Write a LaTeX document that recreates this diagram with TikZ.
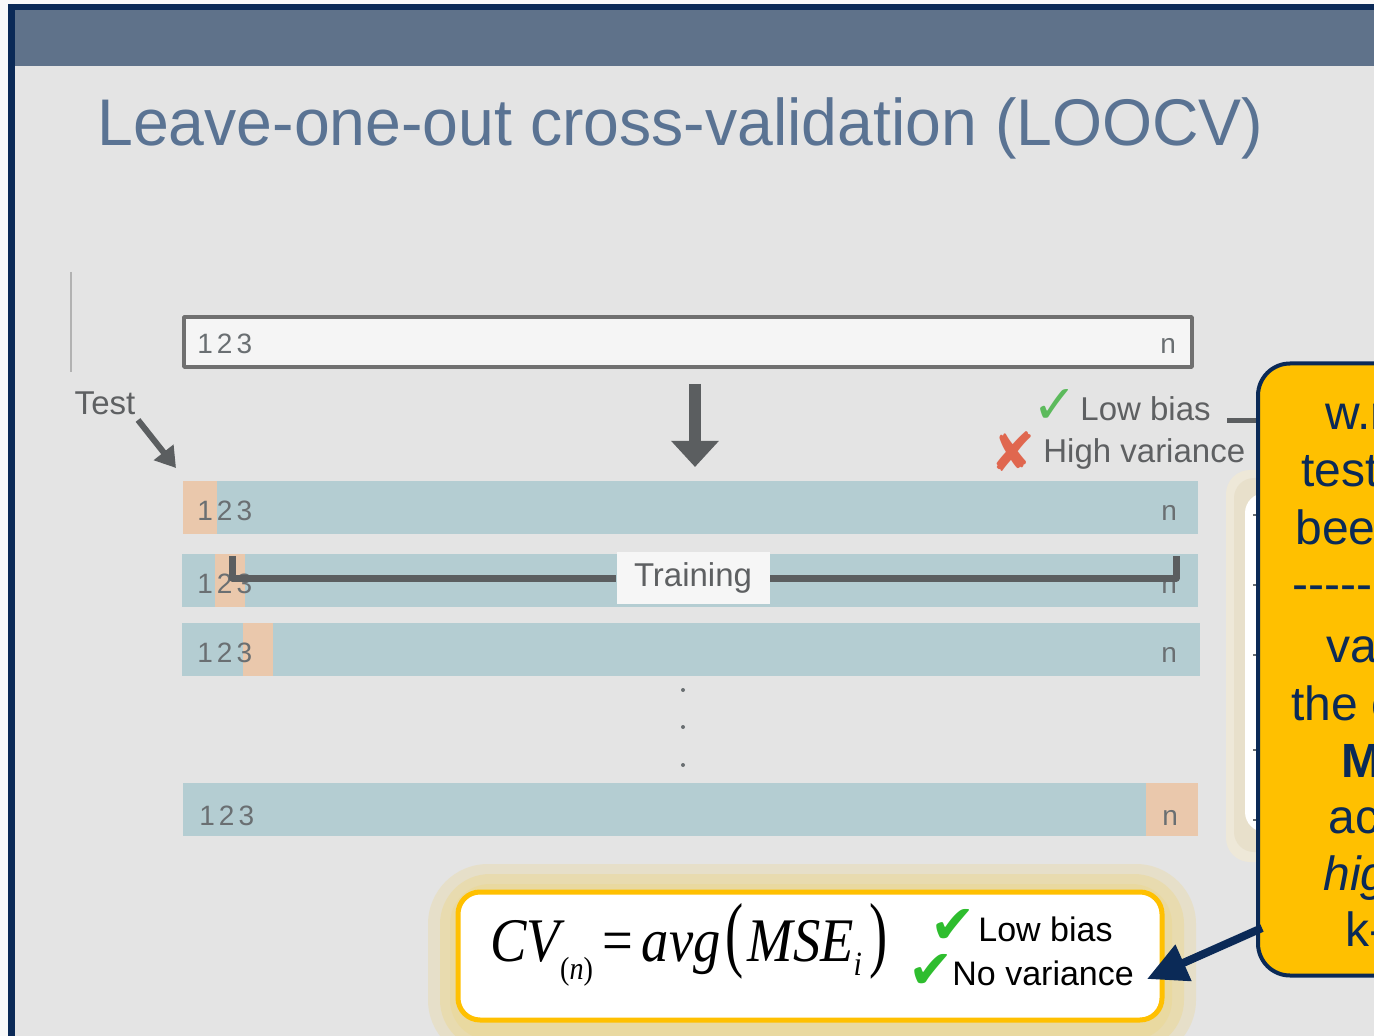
\documentclass[tikz,border=0pt]{standalone}
\usepackage{fontspec}
\usepackage{graphicx}
\setmainfont{Liberation Sans}
\newfontfamily\timesfont{Liberation Serif}
\newfontfamily\symfont{DejaVu Sans}
\usetikzlibrary{arrows.meta}

\definecolor{navy}{HTML}{0B2A57}
\definecolor{header}{HTML}{5F728A}
\definecolor{slidebg}{HTML}{E4E4E4}
\definecolor{titleblue}{HTML}{5A7393}
\definecolor{boxline}{HTML}{707070}
\definecolor{rowblue}{HTML}{B4CDD2}
\definecolor{testpeach}{HTML}{EAC8AC}
\definecolor{idxgray}{HTML}{6A6F72}
\definecolor{arrowgray}{HTML}{5B5E60}
\definecolor{labelgray}{HTML}{5E6062}
\definecolor{okgreen}{HTML}{5CBA5C}
\definecolor{badred}{HTML}{E0674F}
\definecolor{gold}{HTML}{FFC000}
\definecolor{glow}{HTML}{EBD897}
\definecolor{tan}{HTML}{D9CCA8}
\definecolor{checkgreen}{HTML}{2EBD2E}

\tikzset{
  idx/.style={anchor=base west, inner sep=0pt, text=idxgray, font=\fontsize{14}{14}\selectfont},
  lbl/.style={inner sep=0pt, text=labelgray, font=\fontsize{16.5}{16.5}\selectfont},
  calltext/.style={anchor=base west, inner sep=0pt, text=navy, font=\fontsize{24}{24}\selectfont},
  bigarrow/.style={draw=arrowgray, line width=6pt, -{Triangle[length=13pt, width=23pt]}},
  testarrow/.style={draw=arrowgray, line width=3pt, -{Triangle[length=10pt, width=12pt]}},
  bracket/.style={draw=arrowgray, line width=3.5pt},
  navyarrow/.style={draw=navy, line width=4pt, -{Triangle[length=20pt, width=19pt]}},
}

\begin{document}
\begin{tikzpicture}[x=0.5pt, y=-0.5pt, line join=round]
  \useasboundingbox (0,0) rectangle (1374,1036);
  \clip (0,0) rectangle (1374,1036);
  % slide frame
  \fill[white!95!gray] (0,0) rectangle (1374,1036);
  \fill[navy] (8,4) rectangle (1374,1036);
  \fill[header] (15,10) rectangle (1374,66);
  \fill[slidebg] (15,66) rectangle (1374,1036);
  \node[anchor=base west, inner sep=0pt, text=titleblue, font=\fontsize{33}{33}\selectfont] (title) at (97,146) {\scalebox{0.975}[1]{Leave-one-out cross-validation (LOOCV)}};
  \draw[gray!60, line width=1pt] (71,272) -- (71,372);

  % full data set
  \draw[boxline, line width=1.8pt, fill=white!92!gray] (184,317) rectangle (1192,367);
  \node[idx] (top123) at (197,354) {1\kern2pt2\kern2pt3};
  \node[idx] (topn) at (1160,354) {n};
  \coordinate (dtop) at (695,384); \coordinate (dbot) at (695,467);
  \draw[bigarrow] (dtop) -- (dbot);

  % test label
  \node[lbl] (test) at (105,403) {Test};
  \coordinate (testtip) at (176,468);
  \draw[testarrow] (138,420) -- (testtip);

  % Row 1
  \fill[rowblue] (183,481) rectangle (1198,534); \fill[testpeach] (183,481) rectangle (217,534);
  \node[idx] (r1a) at (197,521) {1\kern2pt2\kern2pt3}; \node[idx] (r1n) at (1161,521) {n};
  % Row 2
  \fill[rowblue] (182,554) rectangle (1198,607); \fill[testpeach] (215,554) rectangle (245,607);
  \node[idx] (r2a) at (197,593) {1\kern2pt2\kern2pt3}; \node[idx] (r2n) at (1161,593) {n};
  % Row 3
  \fill[rowblue] (182,623) rectangle (1200,676); \fill[testpeach] (243,623) rectangle (273,676);
  \node[idx] (r3a) at (197,662) {1\kern2pt2\kern2pt3}; \node[idx] (r3n) at (1161,662) {n};
  % dots
  \foreach \y in {690,727,765} \fill[idxgray] (683,\y) circle (1pt);
  % Row n
  \fill[rowblue] (183,783) rectangle (1198,836); \fill[testpeach] (1146,783) rectangle (1198,836);
  \node[idx] (rna) at (199,825) {1\kern2pt2\kern2pt3}; \node[idx] (rnn) at (1162,825) {n};

  % training bracket
  \node[lbl, fill=white!93!gray, minimum width=76.5pt, minimum height=25.5pt] (train) at (693,578) {Training};
  \draw[bracket] (232,556) |- (train.west);
  \draw[bracket] (1176,556) |- (train.east);

  % bias / variance
  \node[lbl, anchor=base west] (lowbias) at (1080,421) {Low bias};
  \node[lbl, anchor=base west] (highvar) at (1043,463) {High variance};
  \node[text=okgreen, inner sep=0pt, font=\symfont\fontsize{27}{27}\selectfont] (tick1) at (1055,406) {✓};
  \node[text=badred, inner sep=0pt, font=\symfont\fontsize{27}{27}\selectfont] (cross1) at (1013,452) {✘};

  % panel behind callout
  \fill[tan!45, rounded corners=12pt] (1226,470) rectangle (1320,862);
  \fill[tan!60, rounded corners=10pt] (1234,478) rectangle (1320,852);
  \fill[white, rounded corners=10pt] (1245,493) rectangle (1320,832);
  \foreach \y in {515,585,655,750,820} \draw[idxgray, line width=1pt] (1253,\y) -- (1258,\y);

  % callout
  \node[draw=navy, line width=2pt, fill=gold, rounded corners=16pt, minimum width=110pt, minimum height=306pt] (callout) at (1368,669.5) {};
  \draw[arrowgray, line width=2.5pt, shorten <=8pt] (lowbias.base east) -- (lowbias.base east -| callout.west);
  \node[calltext] (c1) at (1325,430) {w.r};
  \node[calltext] (c2) at (1301,487) {test};
  \node[calltext] (c3) at (1295,545) {bee};
  \node[calltext] (c4) at (1292,600) {{-}{-}{-}{-}{-}{-}{-}};
  \node[calltext] (c5) at (1326,662) {va};
  \node[calltext] (c6) at (1291,720) {the c};
  \node[calltext, font=\bfseries\fontsize{24}{24}\selectfont] (c7) at (1341,777) {M};
  \node[calltext] (c8) at (1328,833) {ac};
  \node[calltext, font=\itshape\fontsize{24}{24}\selectfont] (c9) at (1323,890) {hig};
  \node[calltext] (c10) at (1345,946) {k-};

  % formula box
  \fill[glow, opacity=0.35, rounded corners=30pt] (428,864) rectangle (1196,1060);
  \fill[glow, opacity=0.5, rounded corners=25pt] (440,874) rectangle (1184,1050);
  \fill[glow, opacity=0.6, rounded corners=20pt] (450,884) rectangle (1172,1040);
  \node[draw=gold, line width=2.5pt, fill=white, rounded corners=11pt, minimum width=352pt, minimum height=64pt] (fbox) at (810,956) {};
  \node[anchor=base west, inner sep=0pt, font=\timesfont\fontsize{31}{31}\selectfont] (cv) at (490,961)
    {\scalebox{0.88}[1]{\itshape CV\raisebox{-9pt}{\fontsize{16}{16}\selectfont\upshape(\itshape n\upshape)}\upshape\,=\,\itshape avg\kern3pt\scalebox{1}[1.35]{\upshape(}\kern2pt MSE\raisebox{-7pt}{\fontsize{17}{17}\selectfont i}\kern4pt\scalebox{1}[1.35]{\upshape)}}};
  \node[text=checkgreen, inner sep=0pt, font=\symfont\fontsize{27}{27}\selectfont] (tick2) at (953,926) {✔};
  \node[text=checkgreen, inner sep=0pt, font=\symfont\fontsize{27}{27}\selectfont] (tick3) at (931,971) {✔};
  \node[anchor=base west, inner sep=0pt, font=\fontsize{17}{17}\selectfont] (lowb) at (978,941) {Low bias};
  \node[anchor=base west, inner sep=0pt, font=\fontsize{17}{17}\selectfont] (novar) at (952,985) {No variance};

  % pointer
  \coordinate (ctail) at (1262,928); \coordinate (ctip) at (1147,979);
  \draw[navyarrow] (ctail) -- (ctip);
\end{tikzpicture}
\end{document}
